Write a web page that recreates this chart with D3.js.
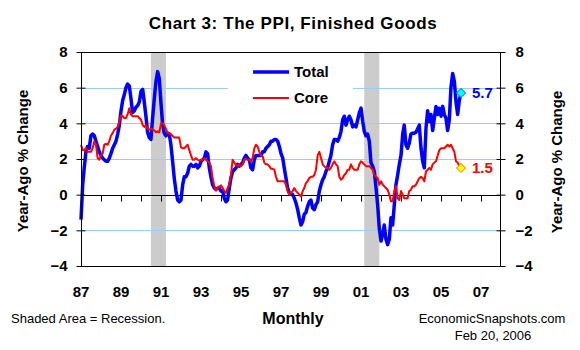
<!DOCTYPE html>
<html>
<head>
<meta charset="utf-8">
<script src="https://cdn.jsdelivr.net/npm/d3@7"></script>
<style>
	body { margin: 0; background: #fff; }
	svg { display: block; font-family: Arial, "Liberation Sans", sans-serif; }
</style>
</head>
<body>
<div id="chart"></div>
<script>
// Data: PPI finished goods, year-ago % change, monthly from Jan 1987
const startMonth = new Date(1987, 0, 1);

const totalValues = [
	-1.4, 0.56, 1.5, 2.4, 2.7, 2.6, 3.3, 3.4, 3.3, 3.0, 2.7, 2.4,        // 1987
	2.2, 2.05, 1.96, 1.87, 1.87, 2.05, 2.3, 2.6, 2.8, 3.0, 3.4, 3.9,     // 1988
	4.7, 5.3, 5.6, 6.0, 6.2, 6.1, 5.4, 4.6, 4.7, 4.9, 5.0, 5.2,          // 1989
	5.8, 5.9, 5.2, 4.4, 3.5, 3.2, 3.1, 4.3, 5.4, 6.35, 6.9, 6.5,         // 1990
	5.1, 3.9, 3.45, 3.3, 3.45, 3.4, 2.8, 1.87, 0.9, 0.2, -0.3, -0.4,     // 1991
	-0.3, 0.56, 1.0, 1.0, 1.2, 1.6, 1.7, 1.6, 1.6, 1.7, 1.5, 1.6,        // 1992
	1.87, 1.96, 2.05, 2.4, 2.3, 1.5, 1.0, 0.56, 0.37, 0.3, 0.37, 0.37,   // 1993
	0.2, 0.2, -0.2, -0.4, -0.3, 0.37, 0.93, 1.3, 1.4, 1.5, 1.7, 1.6,     // 1994
	1.7, 1.8, 2.05, 2.2, 2.05, 1.96, 1.5, 1.4, 1.96, 2.2, 2.2, 2.2,      // 1995
	2.2, 2.4, 2.4, 2.6, 2.7, 2.8, 3.0, 3.0, 3.1, 3.1, 3.0, 2.7,          // 1996
	2.3, 2.05, 1.5, 0.93, 0.37, 0.1, 0.04, 0, -0.2, -0.47, -0.84, -1.3,  // 1997
	-1.7, -1.5, -1.1, -1.0, -0.65, -0.4, -0.3, -0.75, -0.84, -0.56, -0.4, 0.2, // 1998
	0.56, 0.84, 1.0, 1.3, 1.5, 1.87, 2.2, 2.8, 3.1, 3.1, 3.0, 3.2,       // 1999
	3.55, 4.2, 4.4, 3.9, 4.2, 4.4, 4.2, 3.8, 3.9, 3.8, 4.2, 4.6,         // 2000
	4.85, 4.1, 3.55, 3.3, 3.4, 3.0, 1.8, 1.6, 1.3, 0.4, -0.6, -1.9,      // 2001
	-2.6, -2.2, -1.7, -2.5, -2.8, -2.5, -1.3, -1.7, -0.56, 0.56, 1.1, 1.7, // 2002
	2.2, 3.4, 3.9, 2.8, 2.6, 2.9, 3.4, 3.45, 3.45, 3.5, 3.7, 3.9,        // 2003
	2.6, 1.87, 1.5, 3.7, 4.7, 4.1, 4.5, 3.6, 4.3, 4.95, 4.5, 4.85,       // 2004
	4.4, 4.95, 4.5, 4.3, 3.6, 4.2, 6.0, 6.8, 6.35, 5.2, 4.5, 5.3,        // 2005
	5.7                                                                  // 2006
];

const coreValues = [
	2.8, 2.5, 2.5, 2.6, 2.4, 2.4, 2.4, 2.6, 3.0, 2.8, 2.05, 1.96,        // 1987
	2.2, 2.3, 2.8, 2.85, 2.8, 3.0, 3.3, 3.45, 3.65, 3.7, 3.8, 4.1,       // 1988
	4.45, 4.4, 4.3, 4.3, 4.5, 4.85, 4.5, 4.4, 4.4, 4.4, 4.4, 4.3,        // 1989
	4.2, 3.9, 3.8, 3.9, 3.7, 3.65, 3.7, 3.65, 3.6, 3.5, 3.55, 3.5,       // 1990
	4.0, 4.0, 3.9, 3.7, 3.45, 3.45, 3.4, 3.3, 3.2, 3.2, 3.2, 3.2,        // 1991
	2.65, 2.6, 2.6, 2.7, 2.8, 2.5, 2.2, 1.96, 1.96, 2.05, 1.96, 1.9,     // 1992
	1.96, 1.96, 2.05, 1.96, 1.87, 1.8, 1.6, 0.93, 0.47, 0.22, 0.37, 0.47, // 1993
	0.52, 0.37, 0.2, 0.1, 0.37, 0.56, 1.1, 1.96, 1.8, 1.65, 1.6, 1.7,    // 1994
	1.6, 1.7, 1.96, 2.0, 1.96, 1.96, 1.87, 2.05, 2.6, 2.8, 2.7, 2.4,     // 1995
	2.2, 2.15, 1.8, 1.7, 1.7, 1.6, 1.45, 1.45, 1.4, 1.0, 0.75, 0.75,     // 1996
	0.75, 0.75, 0.75, 0.56, 0.2, 0, 0.1, 0.2, 0.37, 0.2, 0.1, 0,         // 1997
	-0.1, 0.2, 0.37, 0.65, 0.75, 0.93, 1.0, 1.0, 1.1, 1.4, 2.2, 2.4,     // 1998
	2.05, 1.7, 1.6, 1.5, 1.5, 1.4, 1.5, 1.7, 1.87, 1.7, 1.6, 1.0,        // 1999
	0.84, 0.93, 1.1, 1.2, 1.4, 1.4, 1.7, 1.5, 1.4, 1.4, 1.4, 1.7,        // 2000
	1.87, 1.8, 1.7, 1.6, 1.6, 1.6, 1.5, 1.4, 1.1, 1.0, 0.93, 0.56,       // 2001
	0.75, 0.56, 0.47, 0.37, 0.28, 0, -0.37, -0.37, 0.2, 0.47, -0.2, -0.3, // 2002
	0.2, 0, -0.2, -0.2, -0.2, 0.2, 0.28, 0.47, 0.47, 0.56, 0.75, 0.93,   // 2003
	1.0, 0.93, 0.75, 1.3, 1.4, 1.5, 1.4, 1.7, 1.8, 1.87, 2.2, 2.5,       // 2004
	2.6, 2.6, 2.6, 2.7, 2.8, 2.7, 2.8, 2.6, 2.4, 1.87, 1.8, 1.6,         // 2005
	1.5                                                                  // 2006
];

// Recession periods (start month, month after end)
const recessions = [
	[new Date(1990, 6, 1), new Date(1991, 3, 1)],
	[new Date(2001, 2, 1), new Date(2001, 11, 1)]
];

// Tick values
const yTicks = [-4, -2, 0, 2, 4, 6, 8];
const gridValues = [-2, 2, 4, 6];
const xLabelYears = [1987, 1989, 1991, 1993, 1995, 1997, 1999, 2001, 2003, 2005, 2007];
const xTickYears = d3.range(1988, 2008);

const seriesNames = ['Total', 'Core'];
const seriesColors = ['#0000ff', '#ff0000'];

// Chart size and plot box
const width = 580;
const height = 350;
const plot = { left: 81, right: 501, top: 52, bottom: 266 };

const x = d3.scaleTime()
	.domain([new Date(1987, 0, 1), new Date(2008, 0, 1)])
	.range([plot.left, plot.right]);

const y = d3.scaleLinear()
	.domain([-4, 8])
	.range([plot.bottom, plot.top]);

const toPoints = (vals) => vals.map((v, i) => ({ date: d3.timeMonth.offset(startMonth, i), value: v }));
const totalData = toPoints(totalValues);
const coreData = toPoints(coreValues);

const svg = d3.select('#chart')
	.append('svg')
	.attr('width', width)
	.attr('height', height);

// Recession shading
svg.selectAll('rect.recession')
	.data(recessions)
	.enter()
	.append('rect')
	.attr('class', 'recession')
	.attr('x', d => x(d[0]))
	.attr('width', d => x(d[1]) - x(d[0]))
	.attr('y', plot.top)
	.attr('height', plot.bottom - plot.top)
	.attr('fill', '#cccccc');

// Gridlines
svg.selectAll('line.grid')
	.data(gridValues)
	.enter()
	.append('line')
	.attr('class', 'grid')
	.attr('x1', plot.left)
	.attr('x2', plot.right)
	.attr('y1', d => Math.round(y(d)) + 0.5)
	.attr('y2', d => Math.round(y(d)) + 0.5)
	.attr('stroke', '#99ccff')
	.attr('stroke-width', 1);

// Legend background hides the gridline behind it
svg.append('rect')
	.attr('x', 228)
	.attr('y', 57)
	.attr('width', 125)
	.attr('height', 54)
	.attr('fill', '#fff');

// Zero line with year ticks
const zeroAxis = svg.append('g')
	.attr('transform', `translate(0, ${Math.round(y(0)) + 0.5})`)
	.call(d3.axisBottom(x)
		.tickValues(xTickYears.map(yr => new Date(yr, 0, 1)))
		.tickSize(6)
		.tickFormat(''));
zeroAxis.select('.domain').remove();
zeroAxis.append('line')
	.attr('x1', plot.left)
	.attr('x2', plot.right)
	.attr('stroke', '#000');

// Lines
const line = d3.line()
	.x(d => x(d.date))
	.y(d => y(d.value));

svg.append('path')
	.datum(totalData)
	.attr('fill', 'none')
	.attr('stroke', seriesColors[0])
	.attr('stroke-width', 3.5)
	.attr('stroke-linejoin', 'round')
	.attr('d', line);

svg.append('path')
	.datum(coreData)
	.attr('fill', 'none')
	.attr('stroke', seriesColors[1])
	.attr('stroke-width', 2)
	.attr('stroke-linejoin', 'round')
	.attr('d', line);

// Plot frame
svg.append('rect')
	.attr('x', plot.left + 0.5)
	.attr('y', plot.top + 0.5)
	.attr('width', plot.right - plot.left - 1)
	.attr('height', plot.bottom - plot.top)
	.attr('fill', 'none')
	.attr('stroke', '#000');

// Y axes, left and right
const leftAxis = svg.append('g')
	.attr('transform', `translate(${plot.left + 0.5}, 0)`)
	.call(d3.axisLeft(y).tickValues(yTicks).tickSize(5).tickPadding(9));
leftAxis.selectAll('.tick line').attr('x1', 4);

const rightAxis = svg.append('g')
	.attr('transform', `translate(${plot.right - 0.5}, 0)`)
	.call(d3.axisRight(y).tickValues(yTicks).tickSize(5).tickPadding(10));
rightAxis.selectAll('.tick line').attr('x1', -4);

[leftAxis, rightAxis].forEach(ax => {
	ax.select('.domain').remove();
	ax.selectAll('text')
		.attr('font-family', 'Arial, "Liberation Sans", sans-serif')
		.attr('font-size', 15)
		.attr('font-weight', 'bold')
		.attr('fill', '#000');
});

// X labels
svg.selectAll('text.xlabel')
	.data(xLabelYears)
	.enter()
	.append('text')
	.attr('class', 'xlabel')
	.attr('x', d => x(new Date(d, 0, 1)))
	.attr('y', 297)
	.attr('text-anchor', 'middle')
	.attr('font-size', 15)
	.attr('font-weight', 'bold')
	.text(d => d3.timeFormat('%y')(new Date(d, 0, 1)));

// Title
svg.append('text')
	.attr('x', 293)
	.attr('y', 29)
	.attr('text-anchor', 'middle')
	.attr('font-size', 17)
	.attr('font-weight', 'bold')
	.attr('letter-spacing', 0.6)
	.text('Chart 3: The PPI, Finished Goods');

// Axis titles
const axisTitle = (cx, cy) => {
	svg.append('text')
		.attr('transform', `translate(${cx}, ${cy}) rotate(-90)`)
		.attr('text-anchor', 'middle')
		.attr('dominant-baseline', 'central')
		.attr('font-size', 15)
		.attr('font-weight', 'bold')
		.text('Year-Ago % Change');
};
axisTitle(22, 161);
axisTitle(556, 162);

// Legend
const legend = svg.selectAll('g.legend')
	.data(seriesNames)
	.enter()
	.append('g')
	.attr('class', 'legend')
	.attr('transform', (d, i) => `translate(253, ${72 + i * 26})`);
legend.append('line')
	.attr('x1', 0)
	.attr('x2', 36)
	.attr('stroke', (d, i) => seriesColors[i])
	.attr('stroke-width', (d, i) => i === 0 ? 3.5 : 2);
legend.append('text')
	.attr('x', 41)
	.attr('y', 5)
	.attr('font-size', 15)
	.attr('font-weight', 'bold')
	.text(d => d);

// End markers and values
const lastPoints = [
	{ p: totalData[totalData.length - 1], fill: '#00ffff', stroke: '#0099cc', text: seriesColors[0] },
	{ p: coreData[coreData.length - 1], fill: '#ffff00', stroke: '#ff9900', text: seriesColors[1] }
];
const marker = d3.symbol().type(d3.symbolSquare).size(40);
svg.selectAll('path.marker')
	.data(lastPoints)
	.enter()
	.append('path')
	.attr('class', 'marker')
	.attr('d', marker)
	.attr('transform', d => `translate(${x(d.p.date)}, ${y(d.p.value)}) rotate(45)`)
	.attr('fill', d => d.fill)
	.attr('stroke', d => d.stroke)
	.attr('stroke-width', 1);
svg.selectAll('text.endval')
	.data(lastPoints)
	.enter()
	.append('text')
	.attr('class', 'endval')
	.attr('x', 472)
	.attr('y', d => y(d.p.value) + 5)
	.attr('font-size', 15)
	.attr('font-weight', 'bold')
	.attr('fill', d => d.text)
	.text(d => d.p.value.toFixed(1));

// Footer notes
svg.append('text')
	.attr('x', 11)
	.attr('y', 323)
	.attr('font-size', 13)
	.text('Shaded Area = Recession.');
svg.append('text')
	.attr('x', 293)
	.attr('y', 324)
	.attr('text-anchor', 'middle')
	.attr('font-size', 16)
	.attr('font-weight', 'bold')
	.text('Monthly');
svg.append('text')
	.attr('x', 492)
	.attr('y', 323)
	.attr('text-anchor', 'middle')
	.attr('font-size', 13)
	.text('EconomicSnapshots.com');
svg.append('text')
	.attr('x', 493)
	.attr('y', 340)
	.attr('text-anchor', 'middle')
	.attr('font-size', 13)
	.text('Feb 20, 2006');
</script>
</body>
</html>
